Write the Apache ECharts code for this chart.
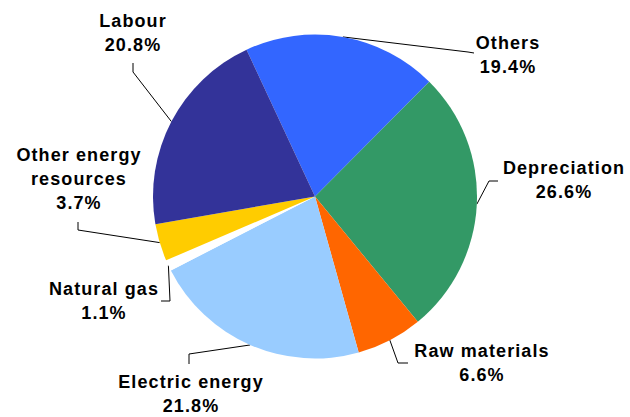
<!DOCTYPE html>
<html>
<head>
<meta charset="utf-8">
<script src="https://cdn.jsdelivr.net/npm/echarts@6/dist/echarts.min.js"></script>
<style>
  html, body { margin: 0; padding: 0; background: #fff; }
  #chart { width: 630px; height: 417px; }
  #chart text { letter-spacing: 1.1px; }
</style>
</head>
<body>
<div id="chart"></div>
<script>
// Data
const categories = ['Others', 'Depreciation', 'Raw materials', 'Electric energy', 'Natural gas', 'Other energy resources', 'Labour'];
const labelNames = ['Others', 'Depreciation', 'Raw materials', 'Electric energy', 'Natural gas', 'Other energy\nresources', 'Labour'];
const values = [19.4, 26.6, 6.6, 21.8, 1.1, 3.7, 20.8];
const colors = ['#3366FF', '#339966', '#FF6600', '#99CCFF', '#FFFFFF', '#FFCC00', '#333399'];

// Label layout (positions of the text blocks and leader-line bends)
const labelPos = [
  [508, 55], [564, 180], [482, 363], [191, 394], [104, 301], [79, 179], [133, 33]
];
const lineBends = [
  [[468, 52], [474, 53]],
  [[489, 181], [498, 181]],
  [[398, 363], [408, 363]],
  [[189, 354], [189, 364]],
  [[170, 301], [161, 301]],
  [[78, 230], [78, 222]],
  [[133, 72], [133, 63]]
];

const chart = echarts.init(document.getElementById('chart'), null, { renderer: 'svg' });
chart.setOption({
  backgroundColor: '#ffffff',
  animation: false,
  series: [{
    type: 'pie',
    center: [315, 196.5],
    radius: 162,
    startAngle: 115,
    clockwise: true,
    avoidLabelOverlap: false,
    percentPrecision: 1,
    itemStyle: { borderWidth: 0 },
    emphasis: { disabled: true },
    data: categories.map((c, i) => ({
      name: c,
      value: values[i],
      itemStyle: { color: colors[i] }
    })),
    label: {
      show: true,
      position: 'outside',
      formatter: p => labelNames[p.dataIndex] + '\n' + p.percent.toFixed(1) + '%',
      fontFamily: 'Liberation Sans, Arial, sans-serif',
      fontWeight: 'bold',
      fontSize: 18,
      lineHeight: 24,
      color: '#000',
      align: 'center'
    },
    labelLine: {
      show: true,
      length: 10,
      length2: 10,
      lineStyle: { color: '#000', width: 1 }
    },
    labelLayout: function (params) {
      const i = params.dataIndex;
      const start = params.labelLinePoints ? params.labelLinePoints[0] : lineBends[i][0];
      return {
        x: labelPos[i][0],
        y: labelPos[i][1],
        align: 'center',
        verticalAlign: 'middle',
        labelLinePoints: [start, lineBends[i][0], lineBends[i][1]]
      };
    }
  }]
});
</script>
</body>
</html>
